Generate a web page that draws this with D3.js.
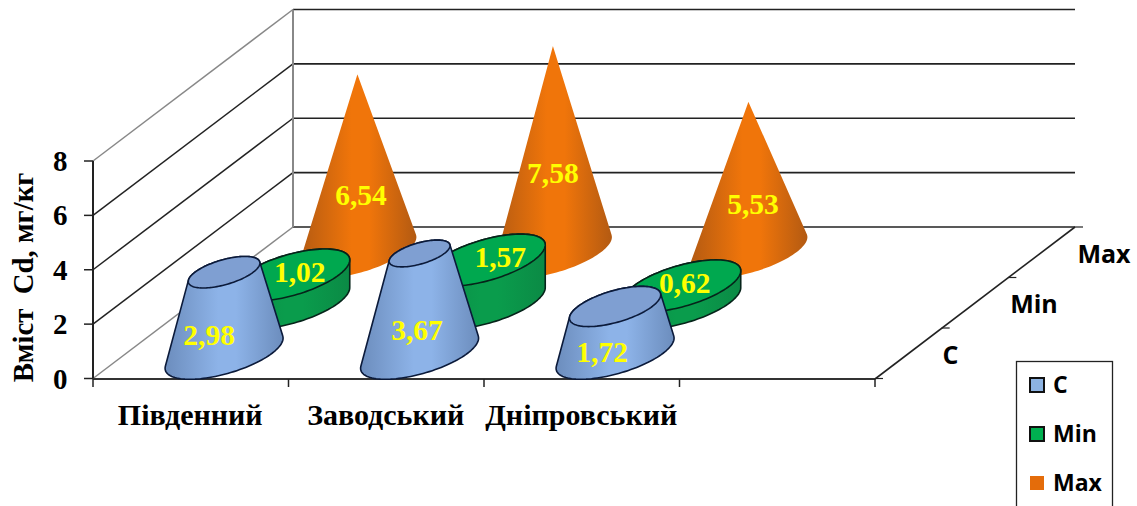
<!DOCTYPE html>
<html><head><meta charset="utf-8">
<script src="https://cdn.jsdelivr.net/npm/d3@7"></script>
<style>html,body{margin:0;background:#fff}svg{display:block}</style>
</head><body><svg id="c" width="1137" height="506"></svg>
<script>
const categories = ["Південний","Заводський","Дніпровський",""];
const seriesNames = ["C","Min","Max"];
const valuesC = [2.98,3.67,1.72];
const valuesMin = [1.02,1.57,0.62];
const valuesMax = [6.54,7.58,5.53];
const yTicks = [0,2,4,6,8];
const shapes = {C:"coneToMax",Min:"cylinder",Max:"cone"};
const colors = {
  C:{edge:"#6c8dbd",mid:"#8db3e8",top:"#7f9fd2",stroke:"#0b1a3a",swatch:"#8db3e2"},
  Min:{edge:"#0b8a45",mid:"#0a9c4c",top:"#00a84f",stroke:"#06241a",swatch:"#00b050"},
  Max:{edge:"#b35a12",mid:"#f0750a",top:"#e46c0a",stroke:"none",swatch:"#e46c0a"}
};
// hand-placed data label offsets in the original, relative to the top centre of each mark
const labelOffsets = {
  C:[[-15,72.7],[-2.6,86.5],[-13,55.4]],
  Min:[[9,7],[14,7],[3,7]],
  Max:[[3.6,130.7],[0,136.8],[4.6,112.2]]
};
const fmt = v => String(v.toFixed(2)).replace(".",",");
const svg = d3.select("#c");
const serif = "'Liberation Serif','Times New Roman',serif";
const sans = "'Open Sans','Noto Sans',sans-serif";

const x = d3.scaleBand().domain(categories).range([93,875]);
const xLin = d3.scaleLinear().domain([0,1]).range([93,875]);
const yS = d3.scaleLinear().domain([0,8]).range([378.5,161]);
const depth = d3.scaleBand().domain(seriesNames).range([0,1]);
const DX=200, DY=-151.5;
const px = (sx,d)=>sx+d*DX;
const py = (v,d)=>yS(v)+d*DY;
const defs = svg.append("defs");
seriesNames.forEach(s=>{
  const g=defs.append("linearGradient").attr("id","g"+s).attr("x1",0).attr("x2",1).attr("y1",0).attr("y2",0);
  [[0,colors[s].edge],[.45,colors[s].mid],[.6,colors[s].mid],[1,colors[s].edge]].forEach(([o,c])=>g.append("stop").attr("offset",o).attr("stop-color",c));
});
const line=(x1,y1,x2,y2,c,w)=>svg.append("line").attr("x1",x1).attr("y1",y1).attr("x2",x2).attr("y2",y2).attr("stroke",c).attr("stroke-width",w||1.5);
yTicks.forEach(t=>{
  line(px(93,1),py(t,1),px(875,1),py(t,1),"#222",1.6);
  line(93,yS(t),px(93,1),py(t,1),t===0||t===8?"#888":"#222",1.5);
  line(84,yS(t),93,yS(t),"#222",1.5);
  svg.append("text").attr("x",67.5).attr("y",yS(t)+10).attr("text-anchor","end").attr("font-family",serif).attr("font-weight","bold").attr("font-size",29).attr("fill","#000").text(t);
});
line(px(93,1),py(0,1),px(93,1),py(8,1),"#888",2);
line(93,yS(0),93,yS(8),"#222",2);
line(93,379,875,379,"#333",2);
line(875,379,px(875,1),py(0,1),"#222",1.6);
d3.range(5).forEach(i=>line(xLin(i/4),379,xLin(i/4),387,"#222",1.5));
d3.range(4).forEach(i=>{const d=i/3;line(px(875,d),py(0,d),px(875,d)+8,py(0,d),"#222",1.2);});
const valuesBy={C:valuesC,Min:valuesMin,Max:valuesMax};
const vmax=d3.max(valuesMax);
const A=48,B=34.3,C=26;
function ring(cx,cy,r){return d3.range(0,360,3).map(a=>{const t=a*Math.PI/180;
  return [cx+r*(A*Math.cos(t)+B*Math.sin(t)),cy-r*C*Math.sin(t)];});}
const gen=d3.line().curve(d3.curveLinearClosed);
[...seriesNames].reverse().forEach(s=>{
  const d=depth(s)+depth.bandwidth()/2;
  valuesBy[s].forEach((v,i)=>{
    const cx=px(x(categories[i])+x.bandwidth()/2,d);
    const y0=py(0,d),y1=py(v,d);
    const ratio=shapes[s]==="cylinder"?1:shapes[s]==="cone"?0:1-v/vmax;
    const hull=d3.polygonHull([...ring(cx,y0,1),...ring(cx,y1,Math.max(ratio,0.001))]);
    const col=colors[s];
    svg.append("path").attr("d",gen(hull)).attr("fill",`url(#g${s})`).attr("stroke",col.stroke).attr("stroke-width",1.6).attr("stroke-linejoin","round");
    if(ratio>0) svg.append("path").attr("d",gen(ring(cx,y1,ratio))).attr("fill",col.top).attr("stroke",col.stroke).attr("stroke-width",1.6);
    const [ox,oy]=labelOffsets[s][i];
    svg.append("text").attr("x",cx+ox).attr("y",y1+oy).attr("text-anchor","middle").attr("font-family",serif).attr("font-weight","bold").attr("font-size",29.5).attr("fill","#ffff00").text(fmt(v));
  });
});
categories.filter(c=>c).forEach(c=>{
  svg.append("text").attr("x",x(c)+x.bandwidth()/2-0.5).attr("y",425).attr("text-anchor","middle").attr("font-family",serif).attr("font-weight","bold").attr("font-size",30).attr("fill","#000").text(c);
});
svg.append("text").attr("transform","translate(33,277.5) rotate(-90)").attr("text-anchor","middle").attr("font-family",serif).attr("font-weight","bold").attr("font-size",28.8).style("white-space","pre").attr("fill","#000").text("Вміст  Cd, мг/кг");
seriesNames.forEach((s,i)=>{
  const d=depth(s)+depth.bandwidth()/2;
  svg.append("text").attr("x",[950.5,1034,1104][i]).attr("y",[364,312.7,262.7][i]).attr("text-anchor","middle").attr("font-family",sans).attr("font-weight","bold").attr("font-size",25).attr("fill","#000").text(s);
});
svg.append("rect").attr("x",1016.5).attr("y",361.5).attr("width",96).attr("height",150).attr("fill","#fff").attr("stroke","#222").attr("stroke-width",1.3);
seriesNames.forEach((s,i)=>{
  const cy=385+i*49;
  svg.append("rect").attr("x",1030).attr("y",cy-7).attr("width",14).attr("height",14).attr("fill",colors[s].swatch).attr("stroke",s==="Max"?"none":"#111").attr("stroke-width",2);
  svg.append("text").attr("x",1053).attr("y",cy+8).attr("font-family",sans).attr("font-weight","bold").attr("font-size",23).attr("fill","#000").text(s);
});
</script></body></html>
